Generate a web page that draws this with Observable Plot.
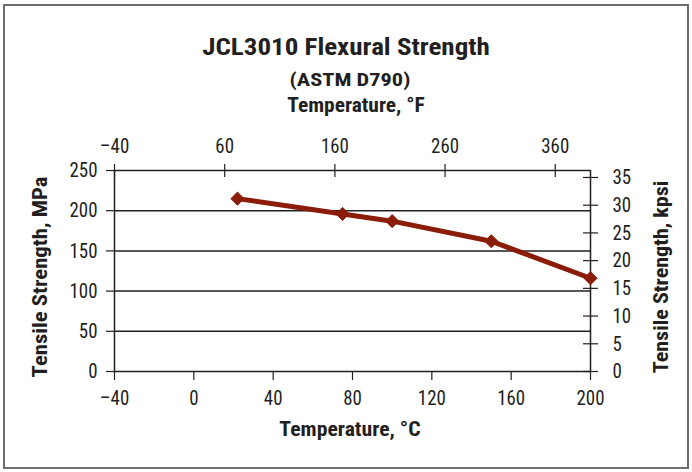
<!DOCTYPE html>
<html>
<head>
<meta charset="utf-8">
<script src="https://cdn.jsdelivr.net/npm/d3@7"></script>
<script src="https://cdn.jsdelivr.net/npm/@observablehq/plot@0.6"></script>
<style>
  html, body { margin: 0; padding: 0; background: #fff; }
  #wrap { position: relative; width: 692px; height: 472px; overflow: hidden;
          font-family: "Roboto Condensed", Roboto, "Liberation Sans", sans-serif; color: #231f20; }
  #border { position: absolute; left: 3px; top: 4px; width: 686px; height: 465px;
            border: 2px solid #6d6d6d; box-sizing: border-box; }
  .lbl { position: absolute; white-space: nowrap; font-weight: bold; line-height: 1;
         transform: translate(-50%, -50%); }
  #chart { position: absolute; left: 0; top: 0; }
  #chart svg { overflow: visible; }
</style>
</head>
<body>
<div id="wrap">
  <div id="border"></div>
  <div id="chart"></div>
  <div class="lbl" data-w="288" style="left:346px; top:47px; font-size:24px;">JCL3010 Flexural Strength</div>
  <div class="lbl" data-w="121" style="left:350px; top:79.5px; font-size:18.5px;">(ASTM D790)</div>
  <div class="lbl" data-w="137" style="left:356px; top:104.5px; font-size:20px;">Temperature, °F</div>
  <div class="lbl" data-w="141" style="left:350px; top:429px; font-size:20px;">Temperature, °C</div>
  <div class="lbl" data-w="201" data-rot="1" style="left:39.5px; top:277px; font-size:20px;">Tensile Strength, MPa</div>
  <div class="lbl" data-w="193" data-rot="1" style="left:661px; top:277px; font-size:20px;">Tensile Strength, kpsi</div>
</div>
<script>
// Data
const tempC = [22, 75, 100, 150, 200];
const strengthMPa = [215, 196, 187, 162, 116];

// Axis ticks
const xTicksC = [-40, 0, 40, 80, 120, 160, 200];
const yTicksMPa = [0, 50, 100, 150, 200, 250];
const gridMPa = [50, 100, 150, 200];
const xTicksF = [-40, 60, 160, 260, 360];
const yTicksKpsi = [0, 5, 10, 15, 20, 25, 30, 35];

const MPA_PER_KPSI = 6.894757;
const fToC = f => (f - 32) * 5 / 9;
const cToF = c => c * 9 / 5 + 32;
const minus = v => (v < 0 ? "\u2013" + Math.abs(v) : String(v));

const data = tempC.map((c, i) => ({c, mpa: strengthMPa[i]}));
const fPos = xTicksF.map(fToC);
const kPos = yTicksKpsi.map(k => k * MPA_PER_KPSI);

const red = "#8a1c08";
const ink = "#231f20";
const tickFont = 21;

const chart = Plot.plot({
  width: 692,
  height: 472,
  marginLeft: 114,
  marginRight: 102,
  marginTop: 170,
  marginBottom: 101,
  style: {fontFamily: '"Roboto Condensed", Roboto, sans-serif', fontWeight: 400, fontSize: tickFont + "px", color: ink, background: "transparent"},
  x: {domain: [-40, 200]},
  y: {domain: [0, 250]},
  marks: [
    Plot.ruleY(gridMPa, {stroke: ink, strokeWidth: 1.5}),
    Plot.frame({stroke: ink, strokeWidth: 1.5}),
    // bottom °C axis
    Plot.axisX({anchor: "bottom", ticks: xTicksC, tickFormat: minus, tickSize: 9, tickPadding: 10,
                fontSize: tickFont, label: null, stroke: ink, strokeWidth: 1.2}),
    // left MPa axis
    Plot.axisY({anchor: "left", ticks: yTicksMPa, tickFormat: minus, tickSize: 8, tickPadding: 9,
                fontSize: tickFont, label: null, stroke: ink, strokeWidth: 1.2}),
    // top °F axis (crossing ticks)
    Plot.axisX({anchor: "top", ticks: fPos, tickFormat: c => minus(Math.round(cToF(c))), tickSize: 7, tickPadding: 11,
                fontSize: tickFont, label: null, stroke: ink, strokeWidth: 1.2}),
    Plot.ruleX(fPos, {x: d => d, y1: 250, y2: 250, insetBottom: -7, stroke: ink, strokeWidth: 1.2}),
    // right kpsi axis (crossing ticks)
    Plot.axisY({anchor: "right", ticks: kPos, tickFormat: m => minus(Math.round(m / MPA_PER_KPSI)), tickSize: 7, tickPadding: 15,
                fontSize: tickFont, label: null, stroke: ink, strokeWidth: 1.2}),
    Plot.ruleY(kPos, {y: d => d, x1: 200, x2: 200, insetLeft: -7, stroke: ink, strokeWidth: 1.2}),
    // data
    Plot.line(data, {x: "c", y: "mpa", stroke: red, strokeWidth: 5, strokeLinejoin: "round"}),
    Plot.dot(data, {x: "c", y: "mpa", symbol: "diamond2", r: 5.9, fill: red, stroke: red, strokeWidth: 1})
  ]
});
document.getElementById("chart").appendChild(chart);

// Condense the tick labels horizontally so that a three-digit label is ~28px wide, as in the reference
const labels = d3.select(chart).selectAll("g[aria-label*='tick label'] text");
let ref = null;
labels.each(function () { if (!ref && this.textContent === "250") ref = this; });
const squeeze = ref ? Math.min(1, 28 / ref.getBBox().width) : 0.85;
labels.each(function () {
  const t = this.getAttribute("transform");
  if (t && t.includes("translate")) {
    this.setAttribute("transform", t + ` scale(${squeeze},1)`);
  } else {
    const x = +this.getAttribute("x") || 0, y = +this.getAttribute("y") || 0;
    this.removeAttribute("x"); this.removeAttribute("y");
    this.setAttribute("transform", `translate(${x},${y}) scale(${squeeze},1)` + (t ? " " + t : ""));
  }
});

// Condense the HTML titles to the reference widths
document.querySelectorAll(".lbl").forEach(el => {
  const s = (+el.dataset.w) / el.scrollWidth;
  el.style.transform = "translate(-50%, -50%)" + (el.dataset.rot ? " rotate(-90deg)" : "") + ` scaleX(${s})`;
});
</script>
</body>
</html>
